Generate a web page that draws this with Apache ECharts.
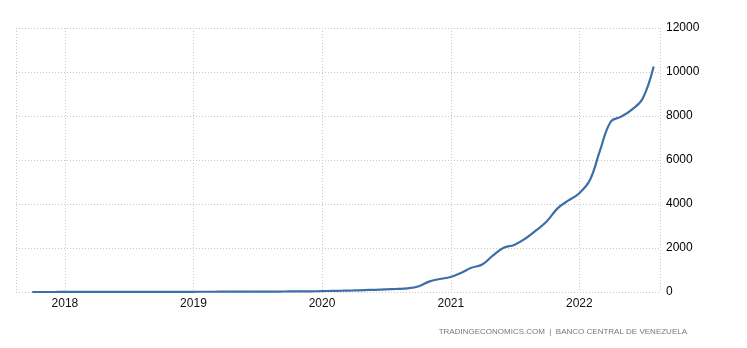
<!DOCTYPE html>
<html><head><meta charset="utf-8">
<script src="https://cdn.jsdelivr.net/npm/echarts@6/dist/echarts.min.js"></script>
<style>html,body{margin:0;padding:0;background:#fff}#c{width:747px;height:348px}</style>
</head><body><div id="c"></div>
<script>
const dates = [
 '2017-09-30','2017-10-31','2017-11-30','2017-12-31',
 '2018-01-31','2018-02-28','2018-03-31','2018-04-30','2018-05-31','2018-06-30','2018-07-31','2018-08-31','2018-09-30','2018-10-31','2018-11-30','2018-12-31',
 '2019-01-31','2019-02-28','2019-03-31','2019-04-30','2019-05-31','2019-06-30','2019-07-31','2019-08-31','2019-09-30','2019-10-31','2019-11-30','2019-12-31',
 '2020-01-31','2020-02-29','2020-03-31','2020-04-30','2020-05-31','2020-06-30','2020-07-31','2020-08-31','2020-09-30','2020-10-31','2020-11-30','2020-12-31',
 '2021-01-31','2021-02-28','2021-03-31','2021-04-30','2021-05-31','2021-06-30','2021-07-31','2021-08-31','2021-09-30','2021-10-31','2021-11-30','2021-12-31',
 '2022-01-31','2022-02-28','2022-03-31','2022-04-30','2022-05-31','2022-06-30','2022-07-31'
];
const values = [
 0.5,0.7,1,1.5,
 2,2,3,3,4,4,5,6,7,8,9,10,
 11,12,13,14,15,17,19,21,24,27,31,40,
 50,58,70,85,100,120,140,165,250,470,590,680,
 880,1100,1250,1650,2010,2140,2420,2800,3200,3800,4150,4480,
 5090,6400,7740,7970,8300,8800,10250
];
const yTicks = [0,2000,4000,6000,8000,10000,12000];
const sourceText = 'TRADINGECONOMICS.COM  |  BANCO CENTRAL DE VENEZUELA';

const chart = echarts.init(document.getElementById('c'), null, {renderer:'canvas'});
const YEAR = 365*24*3600*1000;
chart.setOption({
  animation:false,
  backgroundColor:'#fff',
  grid:{left:16,right:87,top:28,bottom:56},
  xAxis:{
    type:'time',
    min:'2017-08-15', max:'2022-08-18',
    minInterval:YEAR, maxInterval:YEAR*1.01,
    axisLine:{show:false}, axisTick:{show:false},
    axisLabel:{color:'#111',fontSize:12,fontFamily:'Liberation Sans',margin:6,
      formatter:function(v){return String(new Date(v).getFullYear());}},
    splitLine:{show:true,lineStyle:{color:'#c8c8c8',type:[1,2],width:1}}
  },
  yAxis:{
    type:'value',position:'right',min:yTicks[0],max:yTicks[yTicks.length-1],interval:2000,
    axisLine:{show:false}, axisTick:{show:false},
    axisLabel:{color:'#000',fontSize:12,fontFamily:'Liberation Sans',margin:6,
      formatter:function(v){return String(v);}},
    splitLine:{show:true,lineStyle:{color:'#c8c8c8',type:[1,2],width:1}}
  },
  series:[{
    type:'line', smooth:0.4, showSymbol:false,
    lineStyle:{color:'#3d6fa6',width:2.2},
    data: dates.map((d,i)=>[d,values[i]])
  }],
  graphic:[{type:'text',right:60,top:328,style:{text:sourceText,fill:'#777',font:'8px "Liberation Sans"'}}]
});
</script></body></html>
